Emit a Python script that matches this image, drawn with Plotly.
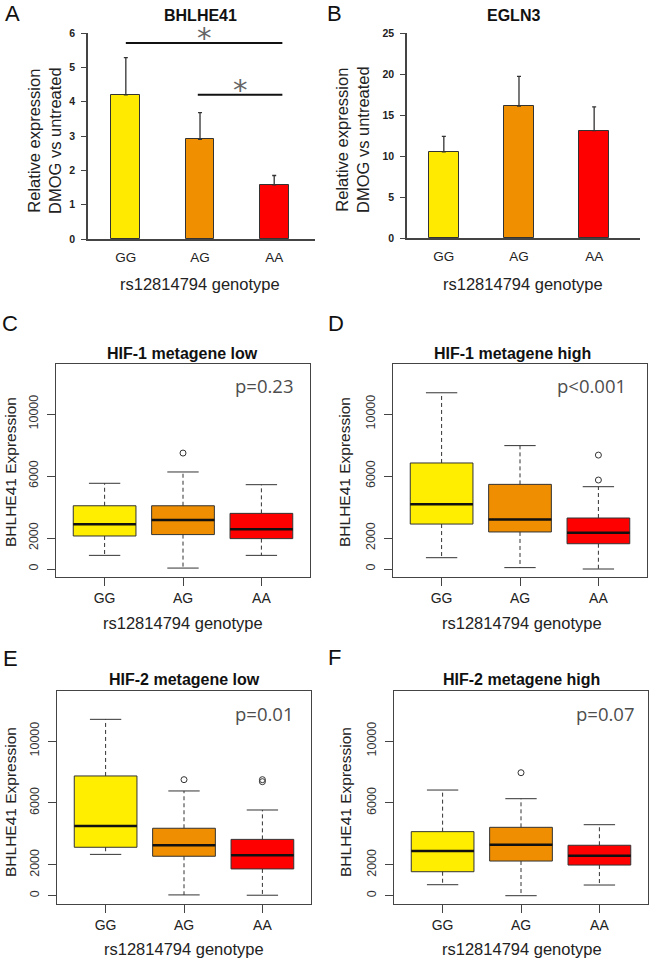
import plotly.graph_objects as go

W, H = 650, 959

# ---------------- data ----------------
genotypes = ["GG", "AG", "AA"]
bar_colors = ["#FFEA00", "#F08F00", "#FF0000"]
box_colors = ["#FFEE00", "#EE8E00", "#FF0000"]

# Panel A / B: relative expression (mean, upper error)
bhlhe41_mean = [4.2, 2.9, 1.58]
bhlhe41_err = [1.08, 0.78, 0.27]
egln3_mean = [10.5, 16.1, 13.1]
egln3_err = [1.9, 3.6, 2.9]

# significance brackets in panel A (x from, x to, level)
sig_from = [0.0, 0.97]
sig_to = [2.11, 2.11]
sig_level = [5.71, 4.2]

# Box statistics (lower whisker, Q1, median, Q3, upper whisker, outliers)
c_lower = [880, 60, 880]
c_q1 = [2130, 2220, 1960]
c_median = [2880, 3160, 2560]
c_q3 = [4080, 4080, 3590]
c_upper = [5530, 6260, 5440]
c_out = [[], [7480], []]

d_lower = [730, 90, 0]
d_q1 = [2900, 2390, 1630]
d_median = [4170, 3200, 2340]
d_q3 = [6840, 5460, 3290]
d_upper = [11370, 7960, 5310]
d_out = [[], [], [7350, 5740]]

e_lower = [2670, 50, 30]
e_q1 = [3130, 2550, 1730]
e_median = [4510, 3260, 2610]
e_q3 = [7740, 4360, 3640]
e_upper = [11400, 6770, 5540]
e_out = [[], [7500], [7500, 7370]]

f_lower = [710, 0, 690]
f_q1 = [1550, 2240, 1980]
f_median = [2890, 3300, 2590]
f_q3 = [4140, 4420, 3260]
f_upper = [6830, 6270, 4590]
f_out = [[], [7950], []]

box_ticks = [0, 2000, 6000, 10000]
box_tick_labels = ["0", "2000", "6000", "10000"]

# ---------------- helpers ----------------
def xd(a, b):
    return [a / W, b / W]

def yd(top, bottom):
    return [1 - bottom / H, 1 - top / H]

def px(xp):
    return xp / W

def py(yp):
    return 1 - yp / H

pos = list(range(len(genotypes)))
LINE = "#444444"
TXT = "#222222"
FONT = "Liberation Sans"

fig = go.Figure()
layout = {}

# ---------------- bar panels ----------------
bar_panels = [
    dict(ax="", mean=bhlhe41_mean, err=bhlhe41_err, xdom=(88, 315), ydom=(33, 239),
         xr=[-0.51, 2.55], yr=[0, 6], dt=1, width=0.39),
    dict(ax="2", mean=egln3_mean, err=egln3_err, xdom=(407, 640), ydom=(33, 238),
         xr=[-0.49, 2.61], yr=[0, 25], dt=5, width=0.4),
]
for p in bar_panels:
    fig.add_trace(go.Bar(
        x=pos, y=p["mean"], width=p["width"],
        marker=dict(color=bar_colors, line=dict(color="#333333", width=1)),
        error_y=dict(type="data", symmetric=False, array=p["err"],
                     arrayminus=[0] * len(p["err"]), color="#333333",
                     thickness=1.3, width=2),
        xaxis="x" + p["ax"], yaxis="y" + p["ax"], showlegend=False,
    ))
    layout["xaxis" + p["ax"]] = dict(
        domain=xd(*p["xdom"]), range=p["xr"], anchor="y" + p["ax"],
        tickvals=pos, ticktext=genotypes, showline=True, linecolor=LINE, linewidth=1.5,
        ticks="outside", ticklen=5, tickcolor="rgba(0,0,0,0)",
        tickfont=dict(family=FONT, size=13.5, color=TXT),
        showgrid=False, zeroline=False, automargin=False,
    )
    layout["yaxis" + p["ax"]] = dict(
        domain=yd(*p["ydom"]), range=p["yr"], anchor="x" + p["ax"],
        dtick=p["dt"], tick0=0, showline=True, linecolor=LINE, linewidth=1.5,
        ticks="outside", ticklen=5, tickcolor=LINE, ticklabelstandoff=4,
        tickfont=dict(family=FONT, size=10.5, color=TXT, weight="bold"),
        showgrid=False, zeroline=False, automargin=False,
    )

# significance brackets (panel A)
shapes = []
for a, b, lvl in zip(sig_from, sig_to, sig_level):
    shapes.append(dict(type="line", xref="x", yref="y", x0=a, x1=b, y0=lvl, y1=lvl,
                       line=dict(color="#111111", width=2)))

annotations = []
for a, b, lvl in zip(sig_from, sig_to, sig_level):
    annotations.append(dict(x=(a + b) / 2, y=lvl, xref="x", yref="y", text="*",
                            showarrow=False, yanchor="bottom", yshift=-14,
                            font=dict(family="DejaVu Sans", size=29, color="#666666")))

# ---------------- box panels ----------------
box_panels = [
    dict(ax="3", st=(c_lower, c_q1, c_median, c_q3, c_upper, c_out), xdom=(56, 310),
         ydom=(364, 577), yr=[-516, 13226]),
    dict(ax="4", st=(d_lower, d_q1, d_median, d_q3, d_upper, d_out), xdom=(393, 647),
         ydom=(364, 577), yr=[-516, 13226]),
    dict(ax="5", st=(e_lower, e_q1, e_median, e_q3, e_upper, e_out), xdom=(57, 311),
         ydom=(691, 904), yr=[-537, 13232]),
    dict(ax="6", st=(f_lower, f_q1, f_median, f_q3, f_upper, f_out), xdom=(394, 648),
         ydom=(691, 904), yr=[-537, 13232]),
]
BW = 0.8
for p in box_panels:
    lo, q1, med, q3, up, out = p["st"]
    xa, ya = "x" + p["ax"], "y" + p["ax"]
    for i in pos:
        fig.add_trace(go.Scatter(
            x=[i, i, None, i, i], y=[q3[i], up[i], None, q1[i], lo[i]],
            mode="lines", line=dict(color="#333333", width=1, dash="4px,3px"),
            xaxis=xa, yaxis=ya, showlegend=False, hoverinfo="skip"))
        fig.add_trace(go.Scatter(
            x=[i - BW / 4, i + BW / 4, None, i - BW / 4, i + BW / 4],
            y=[up[i], up[i], None, lo[i], lo[i]],
            mode="lines", line=dict(color="#333333", width=1),
            xaxis=xa, yaxis=ya, showlegend=False, hoverinfo="skip"))
        fig.add_trace(go.Box(
            x=[i], q1=[q1[i]], median=[med[i]], q3=[q3[i]],
            lowerfence=[q1[i]], upperfence=[q3[i]], width=BW, whiskerwidth=0,
            fillcolor=box_colors[i], line=dict(color="#333333", width=1),
            boxpoints=False, xaxis=xa, yaxis=ya, showlegend=False))
        fig.add_trace(go.Scatter(
            x=[i - BW / 2, i + BW / 2], y=[med[i], med[i]], mode="lines",
            line=dict(color="#111111", width=2.5),
            xaxis=xa, yaxis=ya, showlegend=False, hoverinfo="skip"))
        if out[i]:
            fig.add_trace(go.Scatter(
                x=[i] * len(out[i]), y=out[i], mode="markers",
                marker=dict(symbol="circle-open", size=6, color="#333333",
                            line=dict(width=1)),
                xaxis=xa, yaxis=ya, showlegend=False))
    layout["xaxis" + p["ax"]] = dict(
        domain=xd(*p["xdom"]), range=[-0.62, 2.62], anchor=ya,
        tickvals=pos, ticktext=genotypes, showline=True, mirror=True,
        linecolor=LINE, linewidth=1, ticks="outside", ticklen=8, tickcolor=LINE,
        tickfont=dict(family=FONT, size=14, color=TXT),
        showgrid=False, zeroline=False, automargin=False,
    )
    layout["yaxis" + p["ax"]] = dict(
        domain=yd(*p["ydom"]), range=p["yr"], anchor=xa,
        tickvals=box_ticks, ticktext=box_tick_labels, tickangle=-90,
        showline=True, mirror=True, linecolor=LINE, linewidth=1,
        ticks="outside", ticklen=8, tickcolor=LINE, ticklabelstandoff=4,
        tickfont=dict(family=FONT, size=12.5, color="#333333"),
        showgrid=False, zeroline=False, automargin=False,
    )

# ---------------- text ----------------
def note(text, x, y, size, family=FONT, color=TXT, angle=0, xanchor="center",
         yanchor="middle", pad=1):
    annotations.append(dict(text=text, x=px(x), y=py(y), xref="paper", yref="paper",
                            showarrow=False, textangle=angle, xanchor=xanchor,
                            yanchor=yanchor, borderpad=pad,
                            font=dict(family=family, size=size, color=color)))

# panel letters (top-anchored so they stay inside the page)
for letter, x, y in [("A", 12, 0), ("B", 334, 0), ("C", 10, 310),
                     ("D", 336, 310), ("E", 10, 645), ("F", 334, 644)]:
    note(letter, x, y, 22, color="#111111", yanchor="top", pad=0)

for t, x, y in [("BHLHE41", 200, 16), ("EGLN3", 513, 16),
                ("HIF-1 metagene low", 183, 353), ("HIF-1 metagene high", 512, 353),
                ("HIF-2 metagene low", 184, 679), ("HIF-2 metagene high", 521, 679)]:
    note("<b>" + t + "</b>", x, y, 16, color="#111111")

for x, y in [(200, 284), (523, 284), (183, 623), (522, 623), (184, 949), (522, 949)]:
    note("rs12814794 genotype", x, y, 16.5)

for x, y in [(45, 141), (352, 140)]:
    note("Relative expression<br>DMOG vs untreated", x, y, 16.5, angle=-90)
for x, y in [(10, 472), (344, 472), (10, 802), (345, 802)]:
    note("BHLHE41 Expression", x, y, 15.5, angle=-90)

for t, x, y in [("p=0.23", 296, 385), ("p<0.001", 628, 385),
                ("p=0.01", 296, 713), ("p=0.07", 637, 713)]:
    note(t, x, y, 18.5, family="Open Sans", color="#4d4d4d", xanchor="right")

fig.update_layout(
    width=W, height=H, margin=dict(l=0, r=0, t=0, b=0, autoexpand=False),
    paper_bgcolor="white", plot_bgcolor="white",
    showlegend=False, bargap=0, boxmode="overlay",
    shapes=shapes, annotations=annotations, **layout,
)

fig.write_html(
    "out.html",
    config={"displayModeBar": False},
    post_script="document.body.style.margin='0';document.body.style.overflow='hidden';",
)
